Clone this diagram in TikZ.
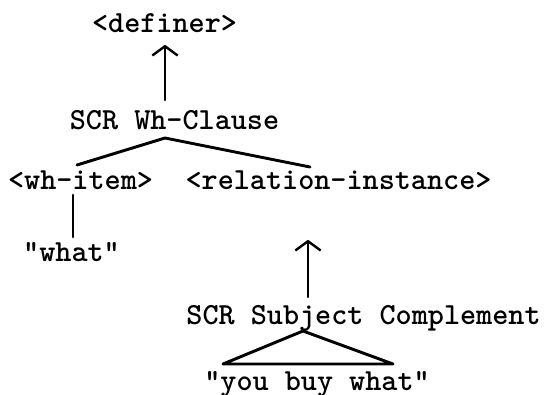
\documentclass[tikz,border=0pt]{standalone}
\usepackage{fontspec}
\usetikzlibrary{arrows.meta,calc}
\begin{document}
\begin{tikzpicture}[x=0.75pt,y=-0.75pt,
  txt/.style={font=\ttfamily\bfseries\fontsize{23}{27}\selectfont, inner sep=0pt, anchor=base},
  ln/.style={line width=2.2pt, line cap=round, line join=round},
  arr/.style={line width=1.8pt, line cap=round, -{Straight Barb[length=7pt,width=19pt,line join=round]}}]
\useasboundingbox (0,0) rectangle (546,395);
\node[txt] (definer) at (164.5,33) {<definer>};
\node[txt] (whclause) at (174.5,130) {SCR Wh-Clause};
\node[txt] (whitem) at (80.5,190) {<wh-item>};
\node[txt] (relinst) at (338.5,190) {<relation-instance>};
\node[txt] (what) at (71.5,262) {"what"};
\node[txt] (subjcomp) at (363.5,325) {SCR Subject Complement};
\node[txt] (youbuy) at (317,390) {"you buy what"};
% arrow whclause -> definer
\draw[arr] ($(whclause.base)+(-9.5,-30)$) -- ($(definer.base)+(0.5,12)$);
% branches
\coordinate (apex) at ($(whclause.base)+(-9.5,8)$);
\draw[ln] ($(whitem.base)+(-3.5,-25)$) -- (apex) -- ($(relinst.base)+(-28.5,-23)$);
% wh-item -- what
\draw[ln] ($(whitem.base)+(-7.5,5)$) -- ($(what.base)+(1.5,-25)$);
% subjcomp -> relinst
\draw[arr] ($(subjcomp.base)+(-55.5,-28)$) -- ($(relinst.base)+(-30.5,50)$);
% triangle
\draw[ln] ($(subjcomp.base)+(-60.5,6)$) -- ($(youbuy.base)+(-94,-26)$) -- ($(youbuy.base)+(76,-26)$) -- cycle;
\end{tikzpicture}
\end{document}
